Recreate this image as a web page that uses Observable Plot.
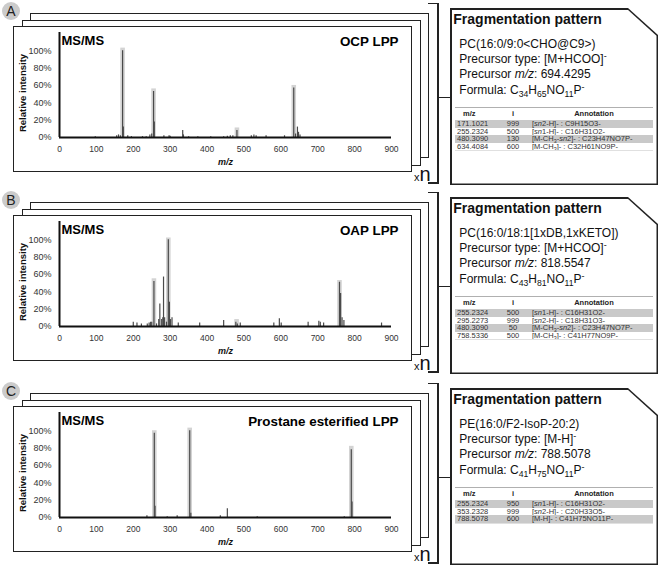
<!DOCTYPE html>
<html><head><meta charset="utf-8">
<script src="https://cdn.jsdelivr.net/npm/d3@7"></script>
<script src="https://cdn.jsdelivr.net/npm/@observablehq/plot@0.6"></script>
<style>
html,body{margin:0;padding:0;background:#fff;}
#fig{position:relative;width:660px;height:566px;overflow:hidden;font-family:"Liberation Sans",Arial,sans-serif;color:#111;}
.frame{position:absolute;box-sizing:border-box;border:1.5px solid #222;background:#fff;width:399px;}
.badge{position:absolute;left:2px;width:18px;height:18px;border-radius:50%;background:#cbcbcb;font-size:14px;line-height:18px;text-align:center;color:#222;}
.plotwrap{position:absolute;left:13px;}
.vline{position:absolute;background:#222;}
.xn{position:absolute;left:414px;line-height:19px;white-space:nowrap;color:#111;}
.box{position:absolute;left:450px;width:208px;height:177px;background:#222;clip-path:polygon(0 0,178px 0,208px 27px,208px 177px,0 177px);}
.inner{position:absolute;left:1.5px;top:1.5px;width:205px;height:174px;background:#fff;clip-path:polygon(0 0,176px 0,205px 26.2px,205px 174px,0 174px);}
.ttl{position:absolute;left:1.8px;top:2.2px;font-size:14px;line-height:14px;font-weight:bold;white-space:nowrap;}
.info{position:absolute;left:7.8px;top:27.4px;font-size:12px;line-height:15.3px;white-space:nowrap;}
sub{font-size:0.72em;vertical-align:-0.3em;line-height:0;}
sup{font-size:0.75em;vertical-align:0.45em;line-height:0;}
table.ft{position:absolute;left:3.5px;top:97.5px;width:198px;border-collapse:collapse;table-layout:fixed;font-size:7.5px;border-top:1px solid #b0b0b0;border-bottom:1px solid #e0e0e0;color:#333;}
table.ft th{height:12px;line-height:12px;padding:0;font-weight:bold;color:#222;}
table.ft td{height:7.6px;line-height:7.6px;padding:0;white-space:nowrap;overflow:hidden;}
table.ft tr.g td{background:#c9c9c9;}
</style></head>
<body><div id="fig"></div>
<script>
// ---- chart data ----
const xTicks = [0, 100, 200, 300, 400, 500, 600, 700, 800, 900];
const yTicks = [0, 0.2, 0.4, 0.6, 0.8, 1.0];
const panelLetters = ["A", "B", "C"];
const panelTitles = ["OCP LPP", "OAP LPP", "Prostane esterified LPP"];

const mzA  = [97, 155, 160, 165, 171, 173, 185, 195, 225, 235, 245, 250, 255, 257, 283, 297, 300, 334, 336, 350, 375, 410, 445, 455, 463, 470, 481, 520, 527, 533, 560, 610, 635, 640, 645, 648, 652];
const intA = [0.01, 0.02, 0.03, 0.02, 1.00, 0.12, 0.02, 0.01, 0.01, 0.01, 0.03, 0.04, 0.53, 0.18, 0.02, 0.02, 0.015, 0.08, 0.03, 0.01, 0.01, 0.01, 0.01, 0.015, 0.02, 0.02, 0.08, 0.02, 0.03, 0.02, 0.02, 0.02, 0.57, 0.04, 0.12, 0.06, 0.03];
const hlMzA = [171, 255, 481, 635];
const hlIntA = [1.03, 0.56, 0.11, 0.60];

const mzB  = [200, 210, 222, 238, 243, 247, 250, 256, 263, 269, 272, 277, 280, 282, 285, 290, 295, 298, 301, 305, 322, 380, 445, 478, 482, 490, 581, 596, 601, 674, 703, 707, 716, 759, 762, 766, 771, 873];
const intB = [0.05, 0.04, 0.03, 0.03, 0.04, 0.05, 0.05, 0.52, 0.03, 0.08, 0.26, 0.08, 0.10, 0.57, 0.10, 0.05, 1.00, 0.28, 0.08, 0.10, 0.04, 0.04, 0.07, 0.05, 0.03, 0.04, 0.04, 0.09, 0.04, 0.05, 0.06, 0.05, 0.04, 0.51, 0.38, 0.10, 0.07, 0.04];
const hlMzB = [256, 295, 480, 759];
const hlIntB = [0.55, 1.02, 0.08, 0.53];

const mzC  = [237, 257, 259, 292, 319, 353, 356, 436, 455, 536, 772, 791, 793];
const intC = [0.02, 0.97, 0.13, 0.01, 0.02, 1.00, 0.05, 0.02, 0.10, 0.01, 0.01, 0.78, 0.18];
const hlMzC = [257, 353, 791];
const hlIntC = [1.00, 1.03, 0.82];

// ---- fragmentation pattern text ----
const lipidNames = ["PC(16:0/9:0&lt;CHO@C9&gt;)", "PC(16:0/18:1[1xDB,1xKETO])", "PE(16:0/F2-IsoP-20:2)"];
const precursorTypes = ["[M+HCOO]<sup>-</sup>", "[M+HCOO]<sup>-</sup>", "[M-H]<sup>-</sup>"];
const precursorMz = ["694.4295", "818.5547", "788.5078"];
const formulas = ["C<sub>34</sub>H<sub>65</sub>NO<sub>11</sub>P<sup>-</sup>", "C<sub>43</sub>H<sub>81</sub>NO<sub>11</sub>P<sup>-</sup>", "C<sub>41</sub>H<sub>75</sub>NO<sub>11</sub>P<sup>-</sup>"];
const tabMzA = ["171.1021", "255.2324", "480.3090", "634.4084"];
const tabIA = ["999", "500", "130", "600"];
const tabAnnA = ["[<i>sn</i>2-H]- : C9H15O3-", "[<i>sn</i>1-H]- : C16H31O2-", "[M-CH<sub>3</sub>-<i>sn</i>2]- : C23H47NO7P-", "[M-CH<sub>3</sub>]- : C32H61NO9P-"];
const tabMzB = ["255.2324", "295.2273", "480.3090", "758.5336"];
const tabIB = ["500", "999", "50", "500"];
const tabAnnB = ["[<i>sn</i>1-H]- : C16H31O2-", "[<i>sn</i>2-H]- : C18H31O3-", "[M-CH<sub>3</sub>-<i>sn</i>2]- : C23H47NO7P-", "[M-CH<sub>3</sub>]- : C41H77NO9P-"];
const tabMzC = ["255.2324", "353.2328", "788.5078"];
const tabIC = ["950", "999", "600"];
const tabAnnC = ["[<i>sn</i>1-H]- : C16H31O2-", "[<i>sn</i>2-H]- : C20H33O5-", "[M-H]- : C41H75NO11P-"];

const spectra = [
  {mz: mzA, it: intA, hm: hlMzA, hi: hlIntA, tm: tabMzA, ti: tabIA, ta: tabAnnA},
  {mz: mzB, it: intB, hm: hlMzB, hi: hlIntB, tm: tabMzB, ti: tabIB, ta: tabAnnB},
  {mz: mzC, it: intC, hm: hlMzC, hi: hlIntC, tm: tabMzC, ti: tabIC, ta: tabAnnC}
];
const offsets = [0, 189, 380];
const FONT = "'Liberation Sans', Arial, sans-serif";

function spectrumPlot(s, title) {
  const bars = s.mz.map((m, k) => ({mz: m, v: s.it[k]}));
  const hl = s.hm.map((m, k) => ({mz: m, v: s.hi[k]}));
  return Plot.plot({
    width: 399, height: 146,
    marginLeft: 46, marginRight: 21, marginTop: 6, marginBottom: 35,
    style: {fontFamily: FONT, fontSize: "9px", background: "transparent", color: "#333"},
    x: {domain: [0, 900]},
    y: {domain: [0, 1.21]},
    marks: [
      Plot.ruleX(hl, {x: "mz", y1: 0, y2: "v", stroke: "#d3d3d3", strokeWidth: 4.6}),
      Plot.ruleX(bars, {x: "mz", y1: 0, y2: "v", stroke: "#4a4a4a", strokeWidth: 1.2}),
      Plot.axisX({ticks: xTicks, tickSize: 0, tickPadding: 8.5, fontSize: 8.5, label: null, tickFormat: d3.format("d")}),
      Plot.axisY({ticks: yTicks, tickSize: 0, tickPadding: 8, fontSize: 9, label: null, tickFormat: d3.format(".0%")}),
      Plot.ruleX([0], {stroke: "#111", strokeWidth: 2}),
      Plot.ruleY([0], {stroke: "#111", strokeWidth: 2}),
      Plot.text(["MS/MS"], {frameAnchor: "top-left", textAnchor: "start", lineAnchor: "top", dx: 2, dy: 3.5, fontSize: 13, fontWeight: "bold", fill: "#000"}),
      Plot.text([title], {frameAnchor: "top-right", textAnchor: "end", lineAnchor: "top", dx: 7, dy: 3.5, fontSize: 13.4, fontWeight: "bold", fill: "#000"}),
      Plot.text(["Relative intensity"], {frameAnchor: "left", textAnchor: "middle", lineAnchor: "middle", rotate: -90, dx: -37, dy: 8, fontSize: 9.5, fontWeight: "bold", fill: "#111"}),
      Plot.text(["m/z"], {frameAnchor: "bottom", dy: 27, fontSize: 9, fontWeight: "bold", fontStyle: "italic", fill: "#111"})
    ]
  });
}

const fig = document.getElementById("fig");
function el(tag, cls, css, html) {
  const e = document.createElement(tag);
  if (cls) e.className = cls;
  if (css) e.style.cssText = css;
  if (html != null) e.innerHTML = html;
  fig.appendChild(e);
  return e;
}

spectra.forEach((s, p) => {
  const oy = offsets[p];
  el("div", "badge", `top:${2 + oy}px`, panelLetters[p]);
  el("div", "frame", `left:30px;top:${13 + oy}px;height:145px;`);
  el("div", "frame", `left:22px;top:${20 + oy}px;height:146px;`);
  el("div", "frame", `left:13px;top:${26 + oy}px;height:146px;`);
  const w = el("div", "plotwrap", `top:${26 + oy}px`);
  w.appendChild(spectrumPlot(s, panelTitles[p]));
  el("div", "xn", `top:${165 + oy}px`, `<span style="font-size:11px">x</span><span style="font-size:20px">n</span>`);
  el("div", "vline", `left:437px;top:${2.5 + oy}px;width:1.5px;height:181px`);
  el("div", "vline", `left:428px;top:${2.5 + oy}px;width:10px;height:1.5px`);
  el("div", "vline", `left:428px;top:${182 + oy}px;width:10px;height:1.5px`);
  el("div", "vline", `left:437px;top:${96.5 + oy}px;width:14px;height:1.5px`);
  const box = el("div", "box", `top:${8 + oy}px`);
  const inner = document.createElement("div");
  inner.className = "inner";
  box.appendChild(inner);
  let rows = s.tm.map((m, k) => `<tr class="${k % 2 === 0 ? "g" : ""}"><td style="padding-left:2px">${m}</td><td style="text-align:center">${s.ti[k]}</td><td style="padding-left:4px">${s.ta[k]}</td></tr>`).join("");
  inner.innerHTML =
    `<div class="ttl">Fragmentation pattern</div>
     <div class="info">
       <div>${lipidNames[p]}</div>
       <div>Precursor type: ${precursorTypes[p]}</div>
       <div>Precursor <i>m/z</i>: ${precursorMz[p]}</div>
       <div>Formula: ${formulas[p]}</div>
     </div>
     <table class="ft"><colgroup><col style="width:43px"><col style="width:30px"><col style="width:125px"></colgroup>
       <tr><th style="text-align:left;padding-left:8px">m/z</th><th>i</th><th style="padding-left:7px">Annotation</th></tr>
       ${rows}
     </table>`;
});
</script></body></html>
